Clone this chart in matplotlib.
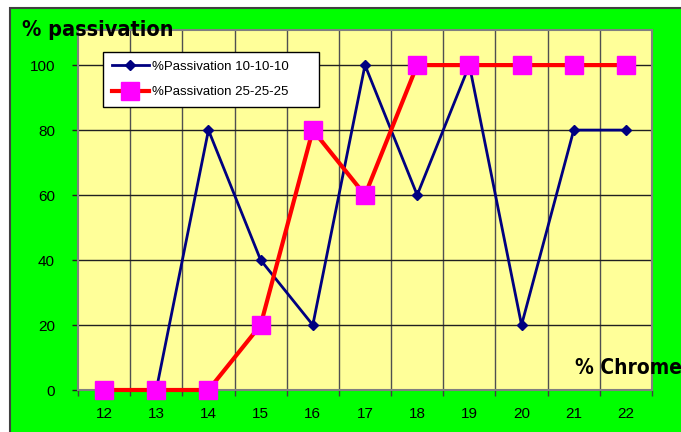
import matplotlib.pyplot as plt
from matplotlib.patches import Rectangle
import numpy as np

chrome = [12, 13, 14, 15, 16, 17, 18, 19, 20, 21, 22]
passiv_10 = [0, 0, 80, 40, 20, 100, 60, 100, 20, 80, 80]
passiv_25 = [0, 0, 0, 20, 80, 60, 100, 100, 100, 100, 100]
y_ticks = [0, 20, 40, 60, 80, 100]

plt.rcParams['font.family'] = ['Liberation Sans', 'DejaVu Sans']

fig = plt.figure(figsize=(6.81, 4.32), dpi=100)
fig.patch.set_facecolor('white')

# green chart area with dark border
fig.patches.append(Rectangle((10 / 681, -0.01), 1.0, 1 - 8 / 432 + 0.01,
                             transform=fig.transFigure, facecolor='#00FF00',
                             edgecolor='#404040', linewidth=1.5, zorder=-1))

ax = fig.add_axes([78 / 681, 1 - 390 / 432, 574 / 681, 360 / 432])
ax.set_zorder(1)
ax.set_facecolor('#FFFF99')

x = np.arange(len(chrome))
ax.plot(x, passiv_10, color='#000080', linewidth=2, marker='D', markersize=5.5,
        markerfacecolor='#000080', markeredgecolor='#000080',
        label='%Passivation 10-10-10', zorder=3, clip_on=False)
ax.plot(x, passiv_25, color='#FF0000', linewidth=3, marker='s', markersize=13,
        markerfacecolor='#FF00FF', markeredgecolor='#FF00FF',
        label='%Passivation 25-25-25', zorder=4, clip_on=False)

ax.set_xlim(-0.5, len(chrome) - 0.5)
ax.set_ylim(0, 110.8)

# vertical gridlines between categories
for b in np.arange(0.5, len(chrome) - 0.5):
    ax.axvline(b, color='#505050', linewidth=1, zorder=1)
for yv in y_ticks[1:]:
    ax.axhline(yv, color='#202020', linewidth=1, zorder=1)

ax.set_xticks(x)
ax.set_xticklabels([str(c) for c in chrome], fontsize=11)
ax.set_xticks(np.arange(-0.5, len(chrome)), minor=True)
ax.tick_params(axis='x', which='major', length=0, pad=12)
ax.tick_params(axis='x', which='minor', length=4.5, color='#404040', width=1)
ax.set_yticks(y_ticks)
ax.set_yticklabels([str(v) for v in y_ticks], fontsize=11)
ax.tick_params(axis='y', length=4.5, color='#202020', width=1, pad=12)

for s in ax.spines.values():
    s.set_color('#808080')
    s.set_linewidth(1.5)

leg = ax.legend(loc='upper left',
                bbox_to_anchor=(25 / 574, 1 - 22 / 360, 216 / 574, 0),
                mode='expand', borderaxespad=0, fancybox=False, framealpha=1,
                edgecolor='black', fontsize=9.5, handlelength=2.8,
                handletextpad=0.3, borderpad=0.65, labelspacing=1.0)
leg.get_frame().set_linewidth(1)
leg.set_zorder(5)

fig.text(22 / 681, 1 - 35.5 / 432, '% passivation', fontsize=15.5,
         fontweight='bold', family='DejaVu Sans', fontstretch='condensed',
         ha='left', va='baseline', zorder=6)
fig.text(575 / 681, 1 - 374 / 432, '% Chrome', fontsize=15,
         fontweight='bold', family='DejaVu Sans', fontstretch='condensed',
         ha='left', va='baseline', zorder=6)

fig.savefig('out.png', dpi=100, facecolor=fig.get_facecolor())
